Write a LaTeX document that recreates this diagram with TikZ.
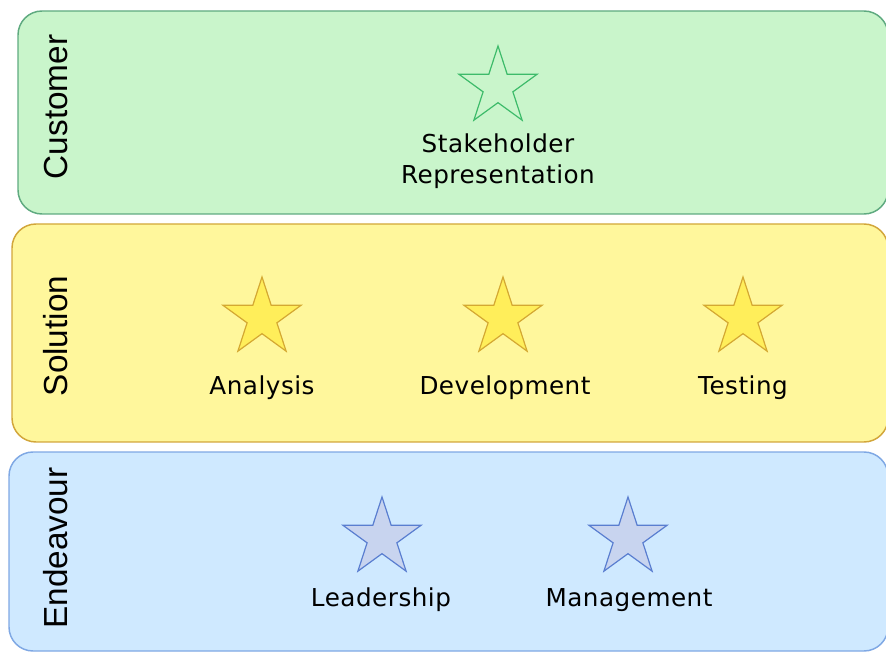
\documentclass[tikz,border=0pt]{standalone}
\usepackage{fontspec}
\setmainfont{DejaVu Sans}[LetterSpace=2]
\newfontfamily\lanefont{Liberation Sans}
\usetikzlibrary{shapes.geometric}
\definecolor{gfill}{HTML}{C9F5CB}
\definecolor{gline}{HTML}{5FAA80}
\definecolor{gstar}{HTML}{3DBB6A}
\definecolor{yfill}{HTML}{FFF79C}
\definecolor{yline}{HTML}{D2A63A}
\definecolor{ystarfill}{HTML}{FFEE5A}
\definecolor{ystar}{HTML}{D4A832}
\definecolor{bfill}{HTML}{CFE9FF}
\definecolor{bline}{HTML}{7FA8E4}
\definecolor{bstarfill}{HTML}{C8D4EF}
\definecolor{bstar}{HTML}{5A7ED0}
\tikzset{
  lane/.style={line width=1.1pt, rounded corners=18pt},
  lanelabel/.style={rotate=90, font=\lanefont\fontsize{25}{29}\selectfont, inner sep=0pt},
  starshape/.style={star, star points=5, star point ratio=2.618, minimum size=61.5pt, inner sep=0pt, line width=0.9pt},
  gstarsty/.style={starshape, draw=gstar, fill=gfill},
  ystarsty/.style={starshape, draw=ystar, fill=ystarfill},
  bstarsty/.style={starshape, draw=bstar, fill=bstarfill},
  itemlabel/.style={font=\fontsize{18.5}{23.5}\selectfont, align=center, inner sep=0pt}
}
\begin{document}
\begin{tikzpicture}[x=0.75pt, y=-0.75pt]
\useasboundingbox (0,0) rectangle (886,652);
\begin{scope}
\clip (0,0) rectangle (886,652);
\draw[lane, draw=gline, fill=gfill] (18,11) rectangle (888,214);
\draw[lane, draw=yline, fill=yfill] (12,224) rectangle (888,442);
\draw[lane, draw=bline, fill=bfill] (9,452) rectangle (888,651);
\end{scope}
\node[lanelabel] (cust) at (56,107) {Customer};
\node[lanelabel] (sol) at (56,336) {Solution};
\node[lanelabel] (end) at (56,548) {Endeavour};

\node[gstarsty] (s1) at (498,87) {};
\node[itemlabel] (l1) at (498,161) {Stakeholder\\Representation};

\node[ystarsty] (s2) at (262,318) {};
\node[ystarsty] (s3) at (503,318) {};
\node[ystarsty] (s4) at (743,318) {};
\node[itemlabel] (l2) at (262,388) {Analysis};
\node[itemlabel] (l3) at (505,388) {Development};
\node[itemlabel] (l4) at (743,388) {Testing};

\node[bstarsty] (s5) at (382,538) {};
\node[bstarsty] (s6) at (628,538) {};
\node[itemlabel] (l5) at (381,600) {Leadership};
\node[itemlabel] (l6) at (629,600) {Management};
\end{tikzpicture}
\end{document}
